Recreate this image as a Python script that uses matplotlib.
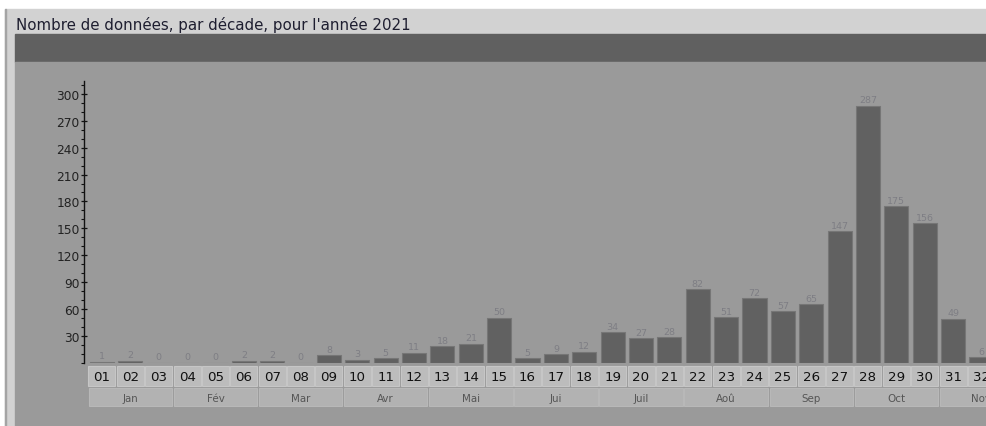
import matplotlib
matplotlib.use("Agg")
import matplotlib.pyplot as plt
from matplotlib.patches import Rectangle
from matplotlib.ticker import MultipleLocator

# data
decades = ["%02d" % d for d in range(1, 33)]
counts = [1, 2, 0, 0, 0, 2, 2, 0, 8, 3, 5, 11, 18, 21, 50, 5,
          9, 12, 34, 27, 28, 82, 51, 72, 57, 65, 147, 287, 175, 156, 49, 6]
months = ["Jan", "Fév", "Mar", "Avr", "Mai", "Jui",
          "Juil", "Aoû", "Sep", "Oct", "Nov"]
title = "Nombre de données, par décade, pour l'année 2021"

W, H = 987, 427
fig = plt.figure(figsize=(W / 100, H / 100), dpi=100, facecolor="white")


def fx(px):
    return px / W


def fy(py):
    return 1 - py / H


def frect(x0, y0, x1, y1, color):
    fig.patches.append(Rectangle((fx(x0), fy(y1)), fx(x1) - fx(x0), fy(y0) - fy(y1),
                                 transform=fig.transFigure, color=color, zorder=-5))


# page frame
frect(5, 10, W, H, "#d2d2d2")
frect(5, 10, 6.5, H, "#a4a4a4")
frect(15, 35, W, 63, "#606060")
frect(15, 63, W, H, "#9a9a9a")

fig.text(fx(16), fy(30), title, fontsize=10.8, color="#1e1e30",
         family="DejaVu Sans", va="baseline", ha="left")

# main axes (x in decade index, y in counts)
x_left, x_right = 84, 1010
y_top, y_base = 82, 363.5
pitch = 28.37
xmin = (x_left - 102) / pitch
xmax = xmin + (x_right - x_left) / pitch

ax = fig.add_axes([fx(x_left), fy(y_base), fx(x_right) - fx(x_left), fy(y_top) - fy(y_base)])
ax.set_facecolor("none")
ax.set_xlim(xmin, xmax)
ax.set_ylim(0, 300 + (95 - y_top) / 0.895)

xs = list(range(len(counts)))
ax.bar(xs, counts, width=0.85, color="#616161", edgecolor="#767676", linewidth=0.8)

for x, v in zip(xs, counts):
    ax.text(x, v + 1.5, str(v), ha="center", va="bottom",
            fontsize=6.8, color="#7e7e84")

for s in ["top", "right", "bottom"]:
    ax.spines[s].set_visible(False)
ax.spines["left"].set_color("#111111")
ax.spines["left"].set_linewidth(1.0)
ax.set_xticks([])
ax.yaxis.set_major_locator(MultipleLocator(30))
ax.yaxis.set_minor_locator(MultipleLocator(10))
ax.set_yticks(range(30, 301, 30))
ax.tick_params(axis="y", which="major", length=4, width=0.9, color="#111111",
               labelsize=8.8, labelcolor="#222222", pad=1, direction="inout")
ax.tick_params(axis="y", which="minor", length=2, width=0.8, color="#111111",
               direction="out")

# decade and month rows
lab = fig.add_axes([fx(x_left), fy(408), fx(x_right) - fx(x_left), fy(365) - fy(408)])
lab.set_facecolor("none")
lab.set_xlim(xmin, xmax)
lab.set_ylim(408, 365)
lab.axis("off")

cell = 27.0 / pitch
for x, d in zip(xs, decades):
    lab.add_patch(Rectangle((x - cell / 2, 367), cell, 20, facecolor="#bcbcbc",
                            edgecolor="#c6c6c6", linewidth=0.8))
    lab.text(x, 377.5, d, ha="center", va="center", fontsize=9.6, color="#111111")

for i, m in enumerate(months):
    x0 = 3 * i - 0.5 + 0.03
    w = 3 - 0.06
    lab.add_patch(Rectangle((x0, 389), w, 18, facecolor="#b2b2b2",
                            edgecolor="#b8b8b8", linewidth=0.8))
    lab.text(3 * i + 1, 398.5, m, ha="center", va="center", fontsize=7.4, color="#555555")

fig.savefig("out.png", dpi=100, facecolor="white")
